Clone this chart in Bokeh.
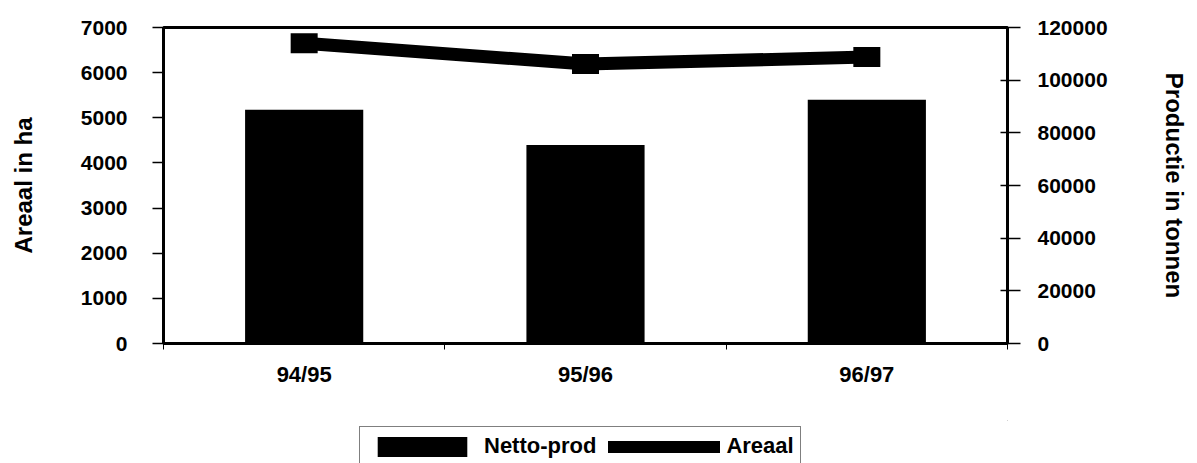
from bokeh.plotting import figure
from bokeh.layouts import column
from bokeh.models import (Range1d, LinearAxis, FixedTicker, Legend, LegendItem,
                          BasicTickFormatter)
from bokeh.embed import file_html
from bokeh.resources import INLINE

# ---- data ----
seasons = ["94/95", "95/96", "96/97"]
netto_prod = [88800, 75400, 92600]      # Productie in tonnen (right axis, bars)
areaal = [6650, 6190, 6345]             # Areaal in ha (left axis, line)
left_ticks = [0, 1000, 2000, 3000, 4000, 5000, 6000, 7000]
right_ticks = [0, 20000, 40000, 60000, 80000, 100000, 120000]
series_names = ["Netto-prod", "Areaal"]

xpos = [i + 0.5 for i in range(len(seasons))]
bounds = list(range(len(seasons) + 1))

FONT = "Liberation Sans"

p = figure(width=1197, height=420, output_backend="svg", toolbar_location=None,
           x_range=Range1d(0, len(seasons)), y_range=Range1d(0, 7000),
           x_axis_type=None, y_axis_type=None,
           min_border_left=163, min_border_right=190, min_border_top=27,
           min_border_bottom=77)
p.extra_y_ranges = {"prod": Range1d(0, 120000)}
p.background_fill_color = "white"
p.border_fill_color = "white"
p.outline_line_color = "black"
p.outline_line_width = 3

# left axis
yl = LinearAxis(ticker=FixedTicker(ticks=left_ticks, minor_ticks=[]),
                axis_label="Areaal in ha")
yl.axis_line_width = 3
yl.major_tick_in = 0
yl.major_tick_out = 11
yl.major_tick_line_width = 1.5
yl.minor_tick_line_color = None
yl.major_label_standoff = 25
yl.axis_label_standoff = 41
yl.major_label_text_font = FONT
yl.major_label_text_font_style = "bold"
yl.major_label_text_font_size = "21px"
yl.major_label_text_color = "black"
yl.axis_label_text_font = FONT
yl.axis_label_text_font_style = "bold"
yl.axis_label_text_font_size = "24px"
yl.axis_label_text_color = "black"
p.add_layout(yl, "left")

# right axis
yr = LinearAxis(y_range_name="prod",
                ticker=FixedTicker(ticks=right_ticks, minor_ticks=[]),
                formatter=BasicTickFormatter(use_scientific=False),
                axis_label="Productie in tonnen")
yr.axis_line_width = 3
yr.major_tick_in = 7
yr.major_tick_out = 13
yr.major_tick_line_width = 1.5
yr.minor_tick_line_color = None
yr.major_label_standoff = 17
yr.axis_label_standoff = 50
yr.major_label_text_font = FONT
yr.major_label_text_font_style = "bold"
yr.major_label_text_font_size = "21px"
yr.major_label_text_color = "black"
yr.axis_label_text_font = FONT
yr.axis_label_text_font_style = "bold"
yr.axis_label_text_font_size = "24px"
yr.axis_label_text_color = "black"
p.add_layout(yr, "right")

# bottom axis: labels at category centres, small ticks at category boundaries
xb = LinearAxis(ticker=FixedTicker(ticks=xpos, minor_ticks=bounds))
xb.major_label_overrides = {x: s for x, s in zip(xpos, seasons)}
xb.axis_line_width = 3
xb.major_tick_line_color = None
xb.major_tick_in = 0
xb.major_tick_out = 0
xb.minor_tick_in = 0
xb.minor_tick_out = 6
xb.minor_tick_line_width = 1
xb.minor_tick_line_color = "black"
xb.major_label_standoff = 12
xb.major_label_text_font = FONT
xb.major_label_text_font_style = "bold"
xb.major_label_text_font_size = "22px"
xb.major_label_text_color = "black"
p.add_layout(xb, "below")

# grid
p.ygrid.ticker = FixedTicker(ticks=left_ticks, minor_ticks=[])
p.ygrid.grid_line_color = "black"
p.ygrid.grid_line_width = 1.5
p.xgrid.grid_line_color = None

# bars (Netto-prod, right axis)
bars = p.vbar(x=xpos, top=netto_prod, width=0.42, bottom=0, y_range_name="prod",
              fill_color="black", line_color=None)

# line (Areaal, left axis)
line = p.line(x=xpos, y=areaal, line_width=13, line_color="black", line_cap="round")
marks = p.rect(x=xpos, y=areaal, width=27, height=20, width_units="screen",
               height_units="screen", fill_color="black", line_color=None)

# ---- legend strip below the chart (its own view range lies away from the data,
#      so its renderers only supply the legend keys) ----
lg = figure(width=1197, height=43, output_backend="svg", toolbar_location=None,
            x_range=Range1d(-3, -2), y_range=Range1d(-3, -2),
            x_axis_type=None, y_axis_type=None,
            min_border_left=0, min_border_right=0, min_border_top=0,
            min_border_bottom=0)
lg.outline_line_color = None
lg.xgrid.grid_line_color = None
lg.ygrid.grid_line_color = None
lg.background_fill_color = "white"
lg.border_fill_color = "white"
key_bar = lg.vbar(x=xpos, top=netto_prod, width=0.42, fill_color="black",
                  line_color=None)
key_line = lg.line(x=xpos, y=areaal, line_width=12, line_color="black",
                   line_cap="round")

legend = Legend(items=[LegendItem(label=series_names[0], renderers=[key_bar]),
                       LegendItem(label=series_names[1], renderers=[key_line])],
                orientation="horizontal", location=(196, -3))
legend.border_line_color = "black"
legend.border_line_width = 1.5
legend.background_fill_color = "white"
legend.background_fill_alpha = 1
legend.label_text_font = FONT
legend.label_text_font_style = "bold"
legend.label_text_font_size = "22px"
legend.label_text_color = "black"
legend.glyph_width = 112
legend.glyph_height = 25
legend.padding = 6
legend.spacing = 12
legend.label_standoff = 6
legend.margin = 0
lg.add_layout(legend, "center")

layout = column(p, lg, spacing=0)
open("out.html", "w").write(file_html(layout, INLINE))
